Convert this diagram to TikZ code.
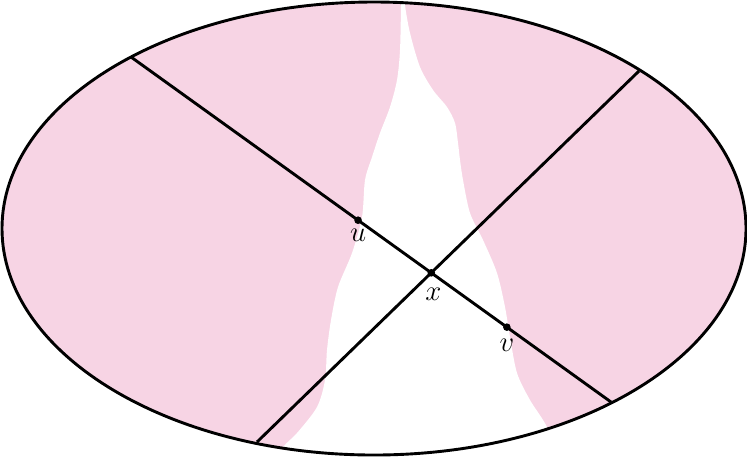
\documentclass[tikz,border=0pt]{standalone}
\usepackage{amsmath,amssymb}
\usepackage{xcolor}
\usepackage{tikz}
\usetikzlibrary{positioning,calc}
\definecolor{RegionPink}{RGB}{247,212,228}

\begin{document}
\begin{tikzpicture}[x=0.5pt,y=-0.5pt,
    edge/.style={line width=1.45pt},
    dot/.style={circle,fill=black,inner sep=0pt,minimum size=3.8pt},
    tag/.style={font=\Large,inner sep=1pt}]
  \useasboundingbox (0,0) rectangle (747,457);
  % pink region and the white gap
  \fill[RegionPink] (374,228.5) ellipse [x radius=372, y radius=226.5];
  \begin{scope}
    \clip (374,228.5) ellipse [x radius=372, y radius=226.5];
    \fill[white] plot[smooth] coordinates {
        (401,-10) (401,5) (400,50) (397,80) (390,107) (380,133) (372,157)
        (365,180) (362,217) (352,253) (338,287) (331,320) (327,350)
        (325,380) (317,407) (297,433) (283,447) (268,470)}
      -- plot[smooth] coordinates {
        (565,470) (547,427) (530,400) (517,373) (510,337) (505,307)
        (497,273) (483,240) (470,213) (463,180) (460,160) (458,143)
        (455,123) (447,107) (433,90) (420,67) (410,33) (405,5) (405,-10)}
      -- cycle;
  \end{scope}
  % the two lines
  \coordinate (a1) at (131,57);
  \coordinate (a2) at (611,402);
  \coordinate (b1) at (257,442);
  \coordinate (b2) at (639,71);
  \draw[edge] (a1) -- (a2);
  \draw[edge] (b1) -- (b2);
  \node[dot] (x) at (intersection of a1--a2 and b1--b2) {};
  \node[dot] (u) at ($(a1)!0.473!(a2)$) {};
  \node[dot] (v) at ($(a1)!0.783!(a2)$) {};
  \node[tag,below=1.2pt of u] (ulabel) {$u$};
  \node[tag,below=4.4pt of x,xshift=1pt] (xlabel) {$x$};
  \node[tag,below=2.6pt of v] (vlabel) {$v$};
  \draw[edge] (374,228.5) ellipse [x radius=372, y radius=226.5];
\end{tikzpicture}
\end{document}
